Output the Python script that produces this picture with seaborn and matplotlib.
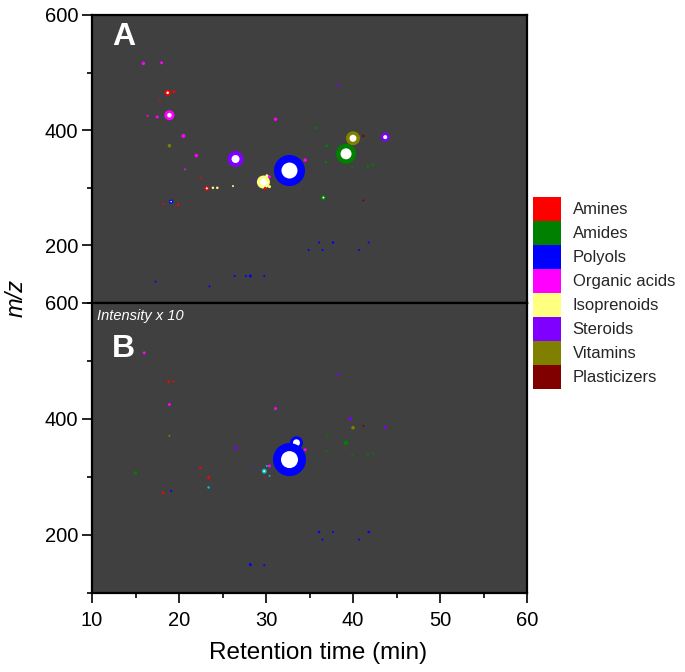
"""
Recreate the two-panel retention time vs m/z bubble map (panel A and panel B, intensity x 10).
"""

import pandas as pd
import matplotlib.pyplot as plt
import seaborn as sns
from matplotlib.patches import Patch
from matplotlib.ticker import MultipleLocator

# class names and colours
classes = ['Amines', 'Amides', 'Polyols', 'Organic acids', 'Isoprenoids',
           'Steroids', 'Vitamins', 'Plasticizers']
class_colors = ['#ff0000', '#008000', '#0000ff', '#ff00ff', '#ffff80',
                '#8000ff', '#808000', '#800000']

# panel A: retention time (min), m/z, class, spot diameter, white core diameter
a_rt = [15.9, 18.0, 18.7, 19.4, 17.8, 16.4, 17.5, 18.9, 20.5, 18.9, 22.0, 20.7,
        22.45, 23.2, 23.9, 24.4, 26.2, 26.5, 29.7, 28.5, 30.4, 29.9, 30.4, 30.1,
        32.7, 34.5, 31.1, 19.1, 18.2, 19.9, 34.9, 17.3, 23.5, 26.4, 27.7, 28.2,
        29.8, 38.3, 35.7, 40.0, 41.2, 43.7, 37.0, 39.2, 36.9, 39.9, 41.7, 42.3,
        36.6, 41.2, 36.1, 37.7, 41.8, 36.5, 40.7]
a_mz = [516, 517, 465, 467, 451, 425, 423, 426, 390, 373, 356, 332,
        317, 299, 300, 300, 303, 350, 310, 313, 319, 299, 302, 321,
        330, 348, 419, 276, 272, 271, 192, 137, 129, 147, 147, 147,
        147, 478, 404, 386, 390, 388, 373, 359, 345, 336, 337, 340,
        283, 278, 205, 205, 205, 192, 192]
a_class = ['Organic acids', 'Organic acids', 'Amines', 'Amines', 'Amines',
           'Organic acids', 'Organic acids', 'Organic acids', 'Organic acids',
           'Vitamins', 'Organic acids', 'Organic acids', 'Amines', 'Amines',
           'Isoprenoids', 'Isoprenoids', 'Isoprenoids', 'Steroids', 'Isoprenoids',
           'Steroids', 'Organic acids', 'Amines', 'Isoprenoids', 'Isoprenoids',
           'Polyols', 'Organic acids', 'Organic acids', 'Polyols', 'Amines',
           'Amines', 'Polyols', 'Polyols', 'Polyols', 'Polyols', 'Polyols',
           'Polyols', 'Polyols', 'Steroids', 'Amides', 'Vitamins', 'Plasticizers',
           'Steroids', 'Amides', 'Amides', 'Amides', 'Amides', 'Amides', 'Amides',
           'Amides', 'Plasticizers', 'Polyols', 'Polyols', 'Polyols', 'Polyols',
           'Polyols']
a_spot = [3.5, 3, 6, 3, 2, 2, 3, 10, 4, 3.5, 3.5, 2,
          2, 4.5, 2.5, 2.5, 2, 16, 13, 2, 3, 3, 3, 3,
          31, 3.5, 3.5, 4, 2, 2.5, 2, 2, 2, 2, 2, 3,
          2, 2.5, 2.5, 14, 2.5, 9, 3, 20, 2.5, 2, 2.5, 2.5,
          5, 2, 2, 2.5, 2, 2, 2]
a_core = [0, 0, 2.5, 0, 0, 0, 0, 4.5, 0, 0, 0, 0,
          0, 2, 0, 0, 0, 8, 7, 0, 0, 0, 0, 0,
          16, 0, 0, 1.5, 0, 0, 0, 0, 0, 0, 0, 0,
          0, 0, 0, 7, 0, 4, 0, 11, 0, 0, 0, 0,
          2, 0, 0, 0, 0, 0, 0]

# panel B (intensity x 10)
b_rt = [16.0, 18.8, 19.4, 18.9, 18.9, 26.5, 22.45, 23.4, 23.4, 15.0, 18.2, 19.1,
        29.8, 30.1, 30.4, 30.4, 28.5, 29.9, 33.5, 32.7, 34.5, 31.1, 28.2, 29.8,
        38.3, 39.7, 40.0, 41.2, 43.7, 37.1, 39.2, 36.9, 39.9, 41.7, 42.3, 36.1,
        37.7, 41.8, 36.5, 40.7]
b_mz = [514, 464, 465, 425, 371, 350, 316, 299, 282, 307, 273, 276,
        310, 319, 302, 319, 313, 299, 359, 330, 347, 418, 149, 148,
        476, 400, 385, 388, 386, 372, 359, 345, 337, 339, 341, 205,
        205, 205, 192, 192]
b_class = ['Organic acids', 'Amines', 'Amines', 'Organic acids', 'Vitamins',
           'Steroids', 'Amines', 'Amines', 'Unassigned', 'Amides', 'Amines',
           'Polyols', 'Unassigned', 'Unassigned', 'Unassigned', 'Organic acids',
           'Steroids', 'Amines', 'Polyols', 'Polyols', 'Organic acids',
           'Organic acids', 'Polyols', 'Polyols', 'Steroids', 'Steroids',
           'Vitamins', 'Plasticizers', 'Steroids', 'Amides', 'Amides', 'Amides',
           'Amides', 'Amides', 'Amides', 'Polyols', 'Polyols', 'Polyols',
           'Polyols', 'Polyols']
b_spot = [3, 2.5, 2, 3, 2, 3.5, 2.5, 3, 2.5, 3.5, 2.5, 2,
          5, 2, 2, 3, 1.5, 1.5, 13, 33, 3, 3, 3, 2,
          2.5, 3.5, 3.5, 2, 3, 2, 4.5, 2, 2, 2, 2, 2.5,
          2, 2.5, 2, 2]
b_core = [0, 0, 0, 0, 0, 0, 0, 0, 0, 0, 0, 0,
          2, 0, 0, 0, 0, 0, 7, 17, 0, 0, 0, 0,
          0, 0, 0, 0, 0, 0, 0, 0, 0, 0, 0, 0,
          0, 0, 0, 0]

palette = dict(zip(classes, class_colors))
palette['Unassigned'] = '#00c0c0'
palette['core'] = '#ffffff'
BG = '#404040'
DPI = 100


def spot_table(rt, mz, cls, spot, core):
    """Each spot becomes a coloured row, followed by its white core (if any)."""
    rows = []
    for x, y, c, d, w in zip(rt, mz, cls, spot, core):
        rows.append((x, y, c, (d * 72 / DPI) ** 2))
        if w > 0:
            rows.append((x, y, 'core', (w * 72 / DPI) ** 2))
    return pd.DataFrame(rows, columns=['rt', 'mz', 'kind', 'area'])


def draw_panel(ax, df):
    amin, amax = df['area'].min(), df['area'].max()
    sns.scatterplot(data=df, x='rt', y='mz', hue='kind', palette=palette,
                    size='area', sizes=(amin, amax), size_norm=(amin, amax),
                    marker='o', linewidth=0, legend=False, ax=ax)
    ax.set_facecolor(BG)
    ax.set_xlim(10, 60)
    ax.set_ylim(100, 600)
    ax.yaxis.set_major_locator(MultipleLocator(200))
    ax.yaxis.set_minor_locator(MultipleLocator(100))
    ax.xaxis.set_major_locator(MultipleLocator(10))
    ax.xaxis.set_minor_locator(MultipleLocator(5))
    ax.tick_params(which='major', length=7, width=1.2, labelsize=14.5, pad=3,
                   color='black', labelcolor='black')
    ax.tick_params(which='minor', length=3.6, width=1.2, color='black')
    ax.set_xlabel('')
    ax.set_ylabel('')
    for sp in ax.spines.values():
        sp.set_visible(True)
        sp.set_color('black')
        sp.set_linewidth(1.6)


sns.set_style('ticks')
plt.rcParams['font.family'] = ['Liberation Sans', 'DejaVu Sans']

fig = plt.figure(figsize=(6.85, 6.72), dpi=DPI)
left, width = 92 / 685, 435 / 685
ax_a = fig.add_axes([left, 1 - 303 / 672, width, 288 / 672])
ax_b = fig.add_axes([left, 1 - 593 / 672, width, 290 / 672])

draw_panel(ax_a, spot_table(a_rt, a_mz, a_class, a_spot, a_core))
draw_panel(ax_b, spot_table(b_rt, b_mz, b_class, b_spot, b_core))

ax_a.tick_params(axis='x', which='both', bottom=False, labelbottom=False)
ax_b.tick_params(axis='x', pad=6)

ax_a.text(0.072, 0.924, 'A', transform=ax_a.transAxes, color='white',
          fontsize=23, fontweight='bold', ha='center', va='center')
ax_b.text(0.072, 0.843, 'B', transform=ax_b.transAxes, color='white',
          fontsize=23, fontweight='bold', ha='center', va='center')
ax_b.text(0.011, 0.955, 'Intensity x 10', transform=ax_b.transAxes,
          color='white', fontsize=10.5, fontstyle='italic', ha='left', va='center')

ax_b.set_xlabel('Retention time (min)', fontsize=17.5, color='black')
ax_b.xaxis.set_label_coords(0.52, -0.17)
fig.text(16 / 685, 1 - 298 / 672, 'm/z', rotation=90, fontsize=17,
         fontstyle='italic', ha='center', va='center', color='black')

handles = [Patch(facecolor=c, edgecolor='none', label=n)
           for n, c in zip(classes, class_colors)]
fig.legend(handles=handles, loc='upper left',
           bbox_to_anchor=(533 / 685, 1 - 197 / 672), frameon=False,
           fontsize=12, borderpad=0, borderaxespad=0, labelspacing=0,
           handlelength=1.68, handleheight=1.84, handletextpad=0.7)

fig.savefig('out.png', dpi=DPI, facecolor='white')
